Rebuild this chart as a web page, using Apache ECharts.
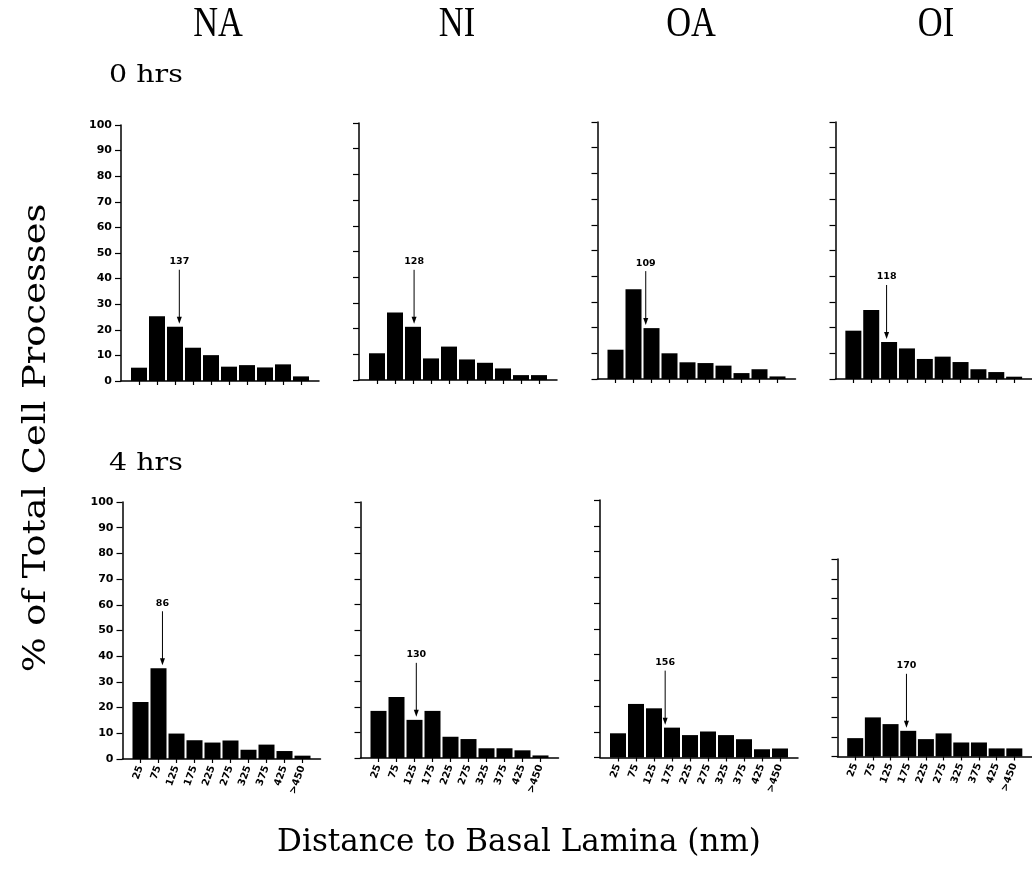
<!DOCTYPE html>
<html>
<head>
<meta charset="utf-8">
<script src="https://cdn.jsdelivr.net/npm/echarts@6/dist/echarts.min.js"></script>
<style>html,body{margin:0;padding:0;background:#fff;}#c{width:1032px;height:879px;}</style>
</head>
<body>
<div id="c"></div>
<script>
// ---- data ----
const binLabels = ['25','75','125','175','225','275','325','375','425','>450'];
const binCenters = [25, 75, 125, 175, 225, 275, 325, 375, 425, 475];
const groups = ['NA', 'NI', 'OA', 'OI'];
const timeLabels = ['0 hrs', '4 hrs'];

const na0 = [5.2, 25.3, 21.2, 13.0, 10.1, 5.6, 6.2, 5.3, 6.5, 1.8];
const ni0 = [10.4, 26.3, 20.7, 8.4, 13.0, 8.0, 6.7, 4.5, 1.9, 1.9];
const oa0 = [11.4, 34.9, 19.8, 10.0, 6.5, 6.2, 5.2, 2.3, 3.8, 1.0];
const oi0 = [18.8, 26.8, 14.4, 11.9, 7.8, 8.7, 6.6, 3.8, 2.7, 0.9];
const na4 = [22.2, 35.3, 9.9, 7.3, 6.4, 7.2, 3.6, 5.6, 3.1, 1.3];
const ni4 = [18.4, 23.8, 14.9, 18.4, 8.3, 7.4, 3.8, 3.8, 3.0, 1.0];
const oa4 = [9.4, 20.8, 19.1, 11.6, 8.7, 10.1, 8.7, 7.1, 3.2, 3.5];
const oi4 = [9.3, 19.8, 16.4, 13.0, 8.8, 11.7, 7.1, 7.1, 4.1, 4.1];

const means0 = [137, 128, 109, 118];
const means4 = [86, 130, 156, 170];

// ---- layout (pixels) ----
const panels = [
  {vals: na0, mean: means0[0], left: 121,   top: 125, height: 256, yLabels: true,  xLabels: false},
  {vals: ni0, mean: means0[1], left: 359,   top: 123, height: 257, yLabels: false, xLabels: false},
  {vals: oa0, mean: means0[2], left: 597.5, top: 122, height: 257, yLabels: false, xLabels: false},
  {vals: oi0, mean: means0[3], left: 835.5, top: 122, height: 257, yLabels: false, xLabels: false},
  {vals: na4, mean: means4[0], left: 122.5, top: 502, height: 257, yLabels: true,  xLabels: true},
  {vals: ni4, mean: means4[1], left: 360.5, top: 502, height: 256, yLabels: false, xLabels: true},
  {vals: oa4, mean: means4[2], left: 600,   top: 500, height: 257.5, yLabels: false, xLabels: true},
  {vals: oi4, mean: means4[3], left: 837.5, top: 559, height: 197.5, yLabels: false, xLabels: true}
];
const GW = 198;

const grid = [], xAxis = [], yAxis = [], series = [];
const labelFont = '"DejaVu Sans", Verdana, sans-serif';

panels.forEach((p, i) => {
  grid.push({left: p.left, top: p.top, width: GW, height: p.height, containLabel: false});
  xAxis.push({
    type: 'value', gridIndex: i, min: -25, max: 525,
    splitLine: {show: false},
    axisLine: {show: true, onZero: false, lineStyle: {color: '#000', width: 1.5}},
    axisTick: {show: true, length: 4, inside: false, customValues: binCenters, lineStyle: {color: '#000', width: 1.2}},
    axisLabel: {
      show: p.xLabels, customValues: binCenters, rotate: 70, margin: 7,
      fontSize: 10, fontWeight: 'bold', color: '#000', fontFamily: labelFont,
      formatter: v => binLabels[binCenters.indexOf(v)]
    }
  });
  yAxis.push({
    type: 'value', gridIndex: i, min: 0, max: 100, interval: 10,
    splitLine: {show: false},
    axisLine: {show: true, onZero: false, lineStyle: {color: '#000', width: 1.5}},
    axisTick: {show: true, length: 6, lineStyle: {color: '#000', width: 1.2}},
    axisLabel: {show: p.yLabels, margin: 9, fontSize: 11, fontWeight: 'bold', color: '#000', fontFamily: labelFont}
  });
  series.push({
    type: 'bar', xAxisIndex: i, yAxisIndex: i, barWidth: 16,
    itemStyle: {color: '#000'},
    data: binCenters.map((c, k) => [c, p.vals[k]]),
    silent: true, animation: false
  });
  const bin = Math.round((p.mean - 25) / 50);
  series.push({
    type: 'custom', xAxisIndex: i, yAxisIndex: i, clip: false, silent: true, animation: false, z: 5,
    data: [[p.mean, p.vals[bin]]],
    renderItem: (params, api) => {
      const pt = api.coord([api.value(0), api.value(1)]);
      const x = pt[0];
      const tipY = pt[1] - 3;
      const topY = tipY - 54;
      return {
        type: 'group',
        children: [
          {type: 'line', shape: {x1: x, y1: topY, x2: x, y2: tipY - 5}, style: {stroke: '#000', lineWidth: 1}},
          {type: 'polygon', shape: {points: [[x - 2.5, tipY - 7], [x + 2.5, tipY - 7], [x, tipY]]}, style: {fill: '#000'}},
          {type: 'text', style: {text: String(api.value(0)), x: x, y: topY - 8, align: 'center', verticalAlign: 'middle',
            font: 'bold 9.5px "DejaVu Sans", Verdana, sans-serif', fill: '#000'}}
        ]
      };
    }
  });
});

const groupX = [218, 457, 691, 936];
const graphic = [];
groups.forEach((g, i) => {
  graphic.push({type: 'text', x: groupX[i], y: 25, scaleX: 0.8,
    style: {text: g, x: 0, y: 0, align: 'center', verticalAlign: 'middle', font: '43px "Liberation Serif", serif', fill: '#000'}});
});
const timeY = [75, 463];
timeLabels.forEach((t, i) => {
  graphic.push({type: 'text', x: 109, y: timeY[i], scaleX: 1.14,
    style: {text: t, x: 0, y: 0, align: 'left', verticalAlign: 'middle', font: '25px "DejaVu Serif", serif', fill: '#000'}});
});
graphic.push({type: 'text', x: 37, y: 438, rotation: Math.PI / 2, scaleX: 1.15,
  style: {text: '% of Total Cell Processes', x: 0, y: 0, align: 'center', verticalAlign: 'middle', font: '32px "DejaVu Serif", serif', fill: '#000'}});
graphic.push({type: 'text', x: 519, y: 843,
  style: {text: 'Distance to Basal Lamina (nm)', x: 0, y: 0, align: 'center', verticalAlign: 'middle', font: '31px "DejaVu Serif", serif', fill: '#000'}});

const chart = echarts.init(document.getElementById('c'));
chart.setOption({
  animation: false,
  backgroundColor: '#fff',
  grid, xAxis, yAxis, series, graphic
});
</script>
</body>
</html>
